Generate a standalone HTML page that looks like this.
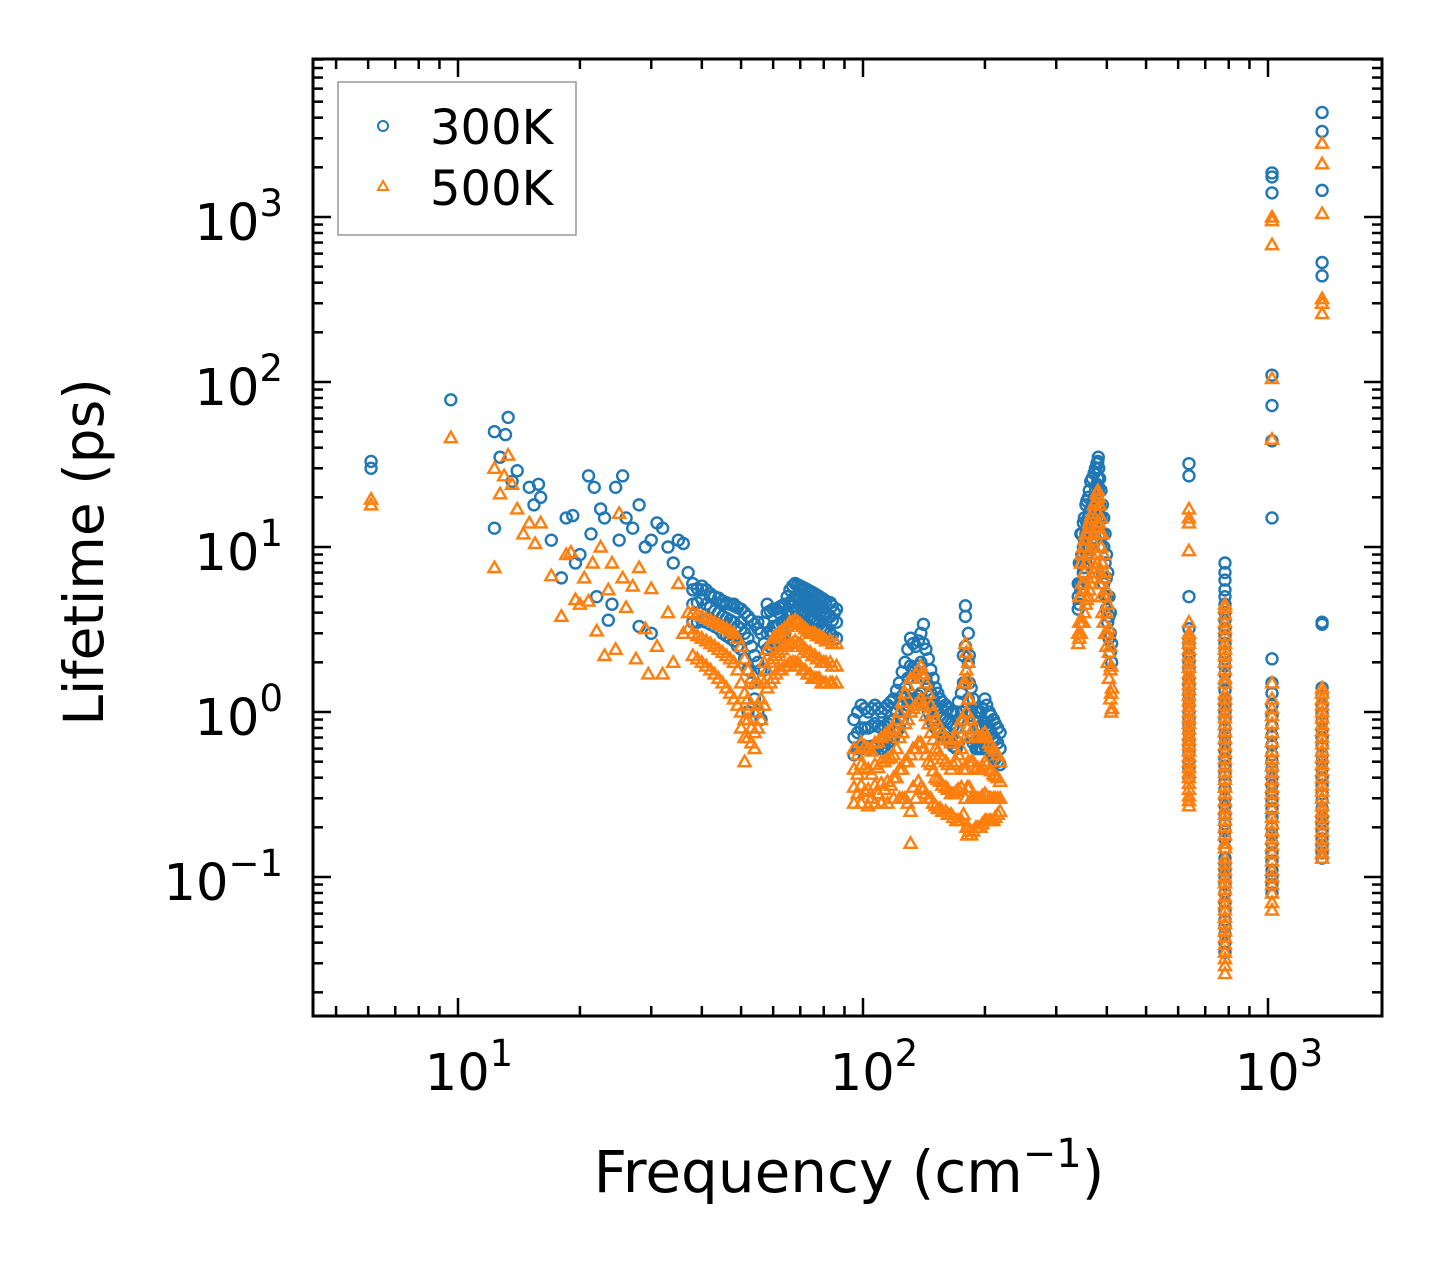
<!DOCTYPE html>
<html><head><meta charset="utf-8"><style>
html,body{margin:0;padding:0;background:#fff;}
svg{display:block;font-family:"DejaVu Sans","Liberation Sans",sans-serif;}
</style></head><body>
<svg id="chart" width="1442" height="1265" viewBox="0 0 1442 1265" xmlns="http://www.w3.org/2000/svg">
<rect x="0" y="0" width="1442" height="1265" fill="#fff"/>
<g id="marks"></g>
<g id="axes"></g>
<text x="849" y="1192" font-size="58" text-anchor="middle">Frequency (cm<tspan dy="-25" font-size="40">−1</tspan><tspan dy="25">)</tspan></text>
<text transform="translate(103,552) rotate(-90)" font-size="55" text-anchor="middle">Lifetime (ps)</text>
<g>
<rect x="338" y="82" width="238" height="153" fill="#fff" stroke="#999" stroke-width="1.5"/>
<circle cx="383" cy="126" r="5" fill="none" stroke="#1f77b4" stroke-width="2"/>
<text x="430" y="144" font-size="48">300K</text>
<polygon points="383,181 388,190 378,190" fill="none" stroke="#ff7f0e" stroke-width="2"/>
<text x="430" y="205" font-size="48">500K</text>
</g>
</svg>
<script>
const blueFreq=[6.1,6.1,9.6,12.3,12.3,12.7,13.1,13.3,13.6,14,15,15.4,15.8,16,17,18,18.5,19.2,19.5,20,21,21.3,21.7,22,22.5,23,23.5,24,24.5,25,25.5,26,27,28,28,29,30,30,31,32,33,34,35,36,37,38,40,42,45,48,50,52,55,58,60,62,65,68,70,72,75,78,80,85,
1023,1023,1023,1023,1023,1023,1023,1360,1360,1360,1360,1360];
const blueLife=[33,30,78,50,13,35,48,61,25,29,23,18,24,20,11,6.5,15,15.5,8,9,27,12,23,5,17,15,3.6,4.5,23,11,27,15,13,18,3.3,10,11,3,14,13,10,8,11,10.5,7,6,5.5,5,4.5,4.5,3.5,1,3.5,4.5,3,4,3.5,6,5.5,5,4.5,5,4,4,
1850,1750,1400,110,72,44,15,4300,3300,1450,530,440];
// dense clusters: [frequency, lifetimes...]
const blueClusters=[
[38,5.5,4.5,3.5],[39,5.6,4.6,3.5],[40,5.8,4.8,3.6],[41,5.5,4.5,3.5],[42,5.2,4.3,3.4],[43,5.0,4.1,3.3],[44,4.9,4.0,3.2],[45,4.7,3.8,3.0],[46,4.6,3.7,2.9],[47,4.5,3.6,2.8],[48,4.4,3.5,2.7],[49,4.3,3.3,2.5],[50,4.2,3.2,2.4],[51,4.0,3.0,2.1],[52,3.8,2.8,1.8],[53,3.6,2.5,1.5],[54,3.4,2.2,1.2],[55,3.2,2.0,1.0],[56,3.0,1.8,0.9],[57,3.5,2.6,1.8],[58,4.0,3.0,2.4],[59,4.1,3.1,2.5],[60,4.2,3.3,2.6],[61,4.2,3.3,2.7],[62,4.3,3.4,2.8],[63,4.4,3.5,2.8],[64,4.5,3.6,2.9],[65,5.0,4.1,3.3],[66,5.5,4.6,3.8],[67,5.8,4.8,4.0],[68,6.0,5.0,4.2],[69,5.9,5.0,4.1],[70,5.8,4.9,4.0],[71,5.7,4.8,4.0],[72,5.6,4.7,3.9],[73,5.5,4.6,3.8],[74,5.4,4.5,3.7],[75,5.3,4.4,3.6],[76,5.2,4.3,3.6],[77,5.1,4.2,3.5],[78,5.0,4.2,3.4],[79,4.9,4.1,3.3],[80,4.8,4.0,3.2],[81,4.7,3.9,3.1],[83,4.6,3.8,3.0],[84,4.4,3.6,2.9],[86,4.2,3.5,2.8],
[95,0.9,0.7,0.55],[97,1.0,0.75,0.6],[99,1.1,0.8,0.6],[101,1.05,0.8,0.62],[103,1.0,0.8,0.6],[105,1.05,0.82,0.62],[107,1.1,0.85,0.62],[109,1.05,0.82,0.62],[111,1.0,0.8,0.6],[113,1.05,0.82,0.62],[115,1.1,0.85,0.65],[117,1.15,0.88,0.67],[119,1.2,0.9,0.7],[121,1.35,1.0,0.75],[123,1.5,1.1,0.8],[125,1.75,1.25,0.9],[127,2.0,1.4,1.0],[129,2.4,1.6,1.1],[131,2.8,1.9,1.2],[133,2.6,1.85,1.2],[135,2.5,1.8,1.2],[137,2.7,1.9,1.25],[139,3.0,2.0,1.3],[141,3.4,2.6],[143,2.4,1.6,1.1],[145,2.1,1.45,1.0],[147,1.8,1.3,0.9],[149,1.6,1.2,0.85],[151,1.4,1.1,0.8],[153,1.3,1.0,0.78],[155,1.2,0.95,0.75],[157,1.15,0.92,0.72],[160,1.1,0.9,0.7],[162,1.05,0.87,0.67],[165,1.0,0.85,0.65],[167,1.0,0.82,0.62],[170,1.0,0.8,0.6],[172,1.15,0.9,0.65],[175,1.3,1.0,0.7],[177,2.2,1.5,0.9],[179,4.4,3.8,2.5,1.5],[182,3.0,2.0,1.2],[183,2.2,1.5,0.95],[185,1.4,1.0,0.7],[187,1.2,0.9,0.65],[190,1.0,0.8,0.6],[192,1.0,0.8,0.6],[195,1.0,0.8,0.6],[197,1.05,0.82,0.6],[200,1.2,0.85,0.62],[202,1.1,0.82,0.6],[205,1.0,0.8,0.6],[207,0.95,0.75,0.57],[210,0.9,0.7,0.55],[212,0.85,0.68,0.52],[215,0.8,0.65,0.5],[218,0.75,0.6,0.48],
[340,6,5,4.2],[342,8,6,4.5],[345,12,8,5.5],[347,12,9,6],[350,14,10,7],[352,15,11,7.5],[355,18,12,8],[357,19,14,9],[360,20,15,10],[362,22,16,10],[365,25,17,11],[368,26,18,12],[372,28,20,14],[375,30,22,15],[378,32,24,16],[380,33,26,18],[381,35,30,22],[382,30,23,15],[384,26,18,12],[387,22,15,10],[390,18,12,7],[393,15,10,6],[396,12,8,5],[399,9,6.5,4.2],[402,7,5,3.5],[405,5,3.8,2.8],[408,4,3,2.3],[411,2.6,2],
[638,32,27,5,3.2,2.8,2.5,2.2,2,1.8,1.6,1.45,1.3,1.2,1.1,1.0,0.9,0.82,0.75,0.68,0.62,0.56,0.5,0.45,0.4],
[783,8,7,6.3,5.5,5,4.5,4,3.6,3.2,2.9,2.6,2.3,2.1,1.9,1.7,1.5,1.35,1.2,1.1,1.0,0.9,0.8,0.72,0.65,0.58,0.52,0.47,0.42,0.38,0.34,0.3,0.27,0.24,0.21,0.19,0.17,0.15,0.13,0.12,0.11,0.1,0.09,0.08,0.07,0.062,0.055,0.05,0.045,0.04,0.035],
[1023,2.1,1.5,1.3,1.1,0.95,0.82,0.72,0.63,0.55,0.5,0.45,0.4,0.36,0.32,0.29,0.26,0.23,0.2,0.18,0.16,0.14,0.125,0.11,0.1,0.09,0.08],
[1360,3.5,3.4,1.4,1.25,1.1,0.98,0.88,0.78,0.7,0.62,0.55,0.5,0.45,0.4,0.36,0.32,0.29,0.26,0.23,0.21,0.19,0.17,0.155,0.14,0.13]];
const orangeFreq=[6.1,6.1,9.6,12.3,12.3,12.7,13,13.3,13.6,14,14.5,15,15.5,16,17,18,18.5,19,19.5,20,20.5,21,21.5,22,22.5,23,23.5,24,24.5,25,25.5,26,27,27.5,28,29,29.5,30,31,32,33,34,35,36,
1023,1023,1023,1023,1023,1360,1360,1360,1360,1360,1360];
const orangeLife=[19.5,18,46,30,7.5,21,27,36,24,17,12,14,10.5,14,6.7,3.8,9,9.3,4.8,4.5,6.5,4.7,8,3.1,10,2.2,5.5,8,2.4,16,6.5,4.3,5.8,2.1,7.5,3.2,1.7,5.6,2.5,1.7,4,2,6,3,
1000,950,680,105,45,2800,2100,1050,320,300,260];
const orangeClusters=[
[37,4,3.2],[38,4.0,3.0,2.2],[39,3.9,2.9,2.1],[40,3.8,2.8,2.0],[41,3.7,2.7,1.9],[42,3.6,2.6,1.8],[43,3.5,2.5,1.7],[44,3.4,2.4,1.6],[45,3.3,2.3,1.5],[46,3.2,2.2,1.4],[47,3.1,2.1,1.3],[48,3.0,2.0,1.2],[49,2.8,1.8,1.1],[50,2.5,1.5,1.0,0.8],[51,2.1,1.3,0.9,0.7,0.5],[52,1.8,1.2,0.9,0.7],[53,1.6,1.1,0.8,0.65],[54,1.5,1.0,0.75,0.6],[55,1.5,1.1,0.8],[56,1.6,1.2,0.9],[57,2.0,1.5,1.1],[58,2.4,1.8,1.4],[59,2.6,2.0,1.5],[60,2.8,2.1,1.6],[61,2.9,2.2,1.7],[62,3.0,2.3,1.8],[63,3.1,2.4,1.8],[64,3.2,2.5,1.9],[65,3.3,2.5,1.9],[66,3.5,2.6,2.0],[67,3.5,2.6,2.0],[68,3.6,2.7,2.0],[69,3.5,2.6,2.0],[70,3.4,2.6,1.9],[71,3.3,2.5,1.8],[72,3.2,2.4,1.8],[73,3.1,2.3,1.7],[74,3.0,2.3,1.7],[75,3.0,2.2,1.6],[76,3.0,2.2,1.6],[77,2.9,2.1,1.6],[78,2.9,2.1,1.6],[79,2.8,2.0,1.5],[80,2.8,2.0,1.5],[81,2.7,2.0,1.5],[83,2.7,2.0,1.5],[84,2.6,1.9,1.5],[86,2.6,1.9,1.5],
[95,0.6,0.45,0.35,0.28],[97,0.55,0.42,0.32],[99,0.65,0.48,0.36,0.28],[101,0.62,0.46,0.33],[103,0.6,0.45,0.34,0.27],[105,0.58,0.42,0.3],[107,0.65,0.48,0.36,0.28],[109,0.66,0.46,0.32],[111,0.7,0.5,0.37,0.28],[113,0.72,0.5,0.34],[115,0.75,0.52,0.38,0.28],[117,0.78,0.53,0.36],[119,0.8,0.55,0.4,0.3],[121,0.9,0.6,0.4],[123,1.0,0.7,0.45,0.3],[125,1.15,0.75,0.45,0.3],[127,1.3,0.85,0.5,0.3],[129,1.45,0.9,0.5,0.28],[131,1.6,1.0,0.55,0.25,0.16],[133,1.6,1.05,0.6,0.35],[135,1.7,1.1,0.6,0.3],[137,1.8,1.15,0.65,0.38],[139,1.9,1.2,0.65,0.35],[141,1.7,1.1,0.6,0.34],[143,1.5,0.95,0.55,0.32],[145,1.3,0.85,0.5,0.3],[147,1.1,0.75,0.48,0.3],[149,1.0,0.68,0.44,0.28],[151,0.9,0.6,0.4,0.27],[153,0.85,0.58,0.39,0.26],[155,0.8,0.55,0.38,0.26],[157,0.75,0.52,0.36,0.25],[160,0.7,0.5,0.35,0.25],[162,0.68,0.48,0.34,0.24],[165,0.65,0.45,0.32,0.24],[167,0.68,0.48,0.32,0.23],[170,0.7,0.5,0.33,0.22],[172,0.8,0.55,0.34,0.22],[175,0.9,0.6,0.35,0.22],[177,1.5,0.9,0.45,0.24],[179,2.6,1.5,0.7,0.3],[180,2.3,1.8,1.0,0.45,0.2],[181,1.6,0.8,0.35,0.18],[182,2.0,1.2,0.5,0.2],[183,1.2,0.7,0.35,0.19],[185,0.9,0.5,0.3,0.18],[187,0.8,0.5,0.3,0.19],[190,0.7,0.45,0.3,0.2],[192,0.72,0.46,0.3,0.2],[195,0.7,0.45,0.3,0.2],[197,0.72,0.47,0.31,0.21],[200,0.75,0.5,0.32,0.22],[202,0.7,0.48,0.31,0.22],[205,0.65,0.45,0.3,0.22],[207,0.62,0.44,0.3,0.22],[210,0.6,0.42,0.3,0.22],[212,0.58,0.41,0.3,0.23],[215,0.55,0.4,0.3,0.24],[218,0.5,0.38,0.3,0.25],
[340,3,2.6],[342,5,3.5,2.8],[345,8,5,3],[347,9,6,3.5],[350,10,6,3.5],[352,11,7,4],[355,12,8,4.5],[357,12,8,4.8],[360,13,9,5],[362,14,9.5,5.5],[365,15,10,6],[368,16,11,6.5],[372,18,12,7],[375,19,13,7.5],[378,21,14,8],[380,22,16,9],[382,20,14,7],[384,18,12,6],[387,15,10,5],[390,12,8,4],[393,9,6.5,3.5],[396,7,5,3],[399,5.5,4,2.5],[402,4.5,3,2],[405,3.2,2.3,1.6],[408,2.5,1.8,1.2],[410,1.9,1.3,1.0],[412,1.4,1.05],
[638,17,15,14,9.5,3.5,3.0,2.8,2.6,2.4,2.2,2.0,1.86,1.72,1.59,1.47,1.36,1.26,1.17,1.08,1.0,0.92,0.85,0.79,0.73,0.68,0.63,0.58,0.54,0.5,0.46,0.43,0.4,0.37,0.34,0.31,0.29,0.27],
[783,4.5,4.3,3.9,3.5,3.2,2.9,2.6,2.4,2.2,2.0,1.8,1.6,1.5,1.3,1.2,1.1,1.0,0.92,0.84,0.76,0.69,0.63,0.57,0.52,0.47,0.43,0.39,0.35,0.32,0.29,0.26,0.24,0.22,0.2,0.18,0.16,0.15,0.13,0.12,0.11,0.1,0.092,0.084,0.076,0.069,0.063,0.057,0.052,0.047,0.043,0.039,0.035,0.032,0.029,0.026],
[1023,1.5,1.2,1.05,0.95,0.85,0.75,0.66,0.58,0.52,0.47,0.43,0.39,0.35,0.32,0.29,0.26,0.23,0.21,0.19,0.17,0.155,0.14,0.125,0.11,0.1,0.09,0.08,0.07,0.063],
[1360,1.4,1.3,1.2,1.1,1.0,0.92,0.84,0.77,0.7,0.64,0.58,0.53,0.48,0.44,0.4,0.36,0.33,0.3,0.27,0.25,0.23,0.21,0.19,0.17,0.155,0.14,0.13]];
const xTickExp=[1,2,3];
const yTickExp=[-1,0,1,2,3];

const NS='http://www.w3.org/2000/svg';
const L=313,R=1382,T=59,B=1016;
const X0=1-145/405, X1=3+114/405;
const Y1=3+158/165, Y0=-1-139/165;
function xs(f){return L+(Math.log10(f)-X0)/(X1-X0)*(R-L);}
function ys(v){return B-(Math.log10(v)-Y0)/(Y1-Y0)*(B-T);}
function mk(tag,attrs,parent){const e=document.createElementNS(NS,tag);for(const k in attrs)e.setAttribute(k,attrs[k]);parent.appendChild(e);return e;}
const marks=document.getElementById('marks');
const axes=document.getElementById('axes');
function blue(f,v){
  const c=mk('circle',{cx:xs(f),cy:ys(v),r:5.5,fill:'none',stroke:'#1f77b4','stroke-width':2.4},marks);
  
  
}
function orange(f,v){
  const x=xs(f),y=ys(v);
  const p=mk('polygon',{points:`${x},${y-6} ${x+6},${y+4.5} ${x-6},${y+4.5}`,fill:'none',stroke:'#ff7f0e','stroke-width':2.4},marks);
  
  
}
for(let i=0;i<blueFreq.length;i++)blue(blueFreq[i],blueLife[i]);
blueClusters.forEach(c=>{for(let j=1;j<c.length;j++)blue(c[0],c[j]);});
for(let i=0;i<orangeFreq.length;i++)orange(orangeFreq[i],orangeLife[i]);
orangeClusters.forEach(c=>{for(let j=1;j<c.length;j++)orange(c[0],c[j]);});

const frame=mk('rect',{x:L,y:T,width:R-L,height:B-T,fill:'none',stroke:'#000','stroke-width':3},axes);


for(let e=0;e<=3;e++){for(let m=1;m<10;m++){const f=m*Math.pow(10,e);const x=xs(f);if(x<L||x>R)continue;const len=m===1?18:10;
 mk('line',{x1:x,y1:B,x2:x,y2:B-len,stroke:'#000','stroke-width':2.5},axes);
 mk('line',{x1:x,y1:T,x2:x,y2:T+len,stroke:'#000','stroke-width':2.5},axes);}}
for(let e=-2;e<=3;e++){for(let m=1;m<10;m++){const v=m*Math.pow(10,e);const y=ys(v);if(y<T||y>B)continue;const len=m===1?18:10;
 mk('line',{x1:L,y1:y,x2:L+len,y2:y,stroke:'#000','stroke-width':2.5},axes);
 mk('line',{x1:R,y1:y,x2:R-len,y2:y,stroke:'#000','stroke-width':2.5},axes);}}
xTickExp.forEach(e=>{
  const t=mk('text',{x:xs(Math.pow(10,e))+11,y:1090,'font-size':51,'text-anchor':'middle'},axes);
  
  
  t.innerHTML='10<tspan dy="-24" font-size="37">'+e+'</tspan>';
});
yTickExp.forEach(e=>{
  const t=mk('text',{x:283,y:ys(Math.pow(10,e))+23,'font-size':51,'text-anchor':'end'},axes);
  
  
  t.innerHTML='10<tspan dy="-24" font-size="37">'+(e<0?'−'+(-e):e)+'</tspan>';
});
</script>
</body></html>
